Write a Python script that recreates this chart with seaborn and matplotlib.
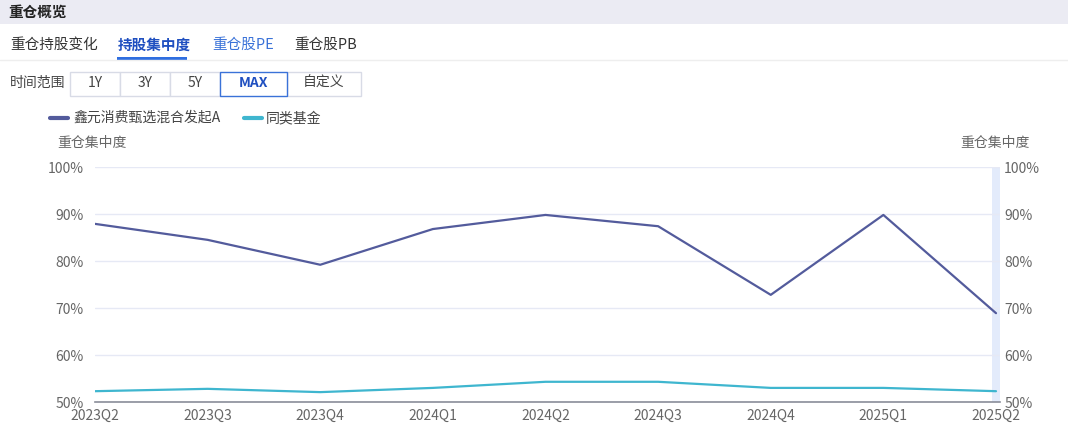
import pandas as pd
import numpy as np
import matplotlib
matplotlib.use("Agg")
import matplotlib.pyplot as plt
import seaborn as sns
from matplotlib.patches import Rectangle

# data
quarters = ["2023Q2", "2023Q3", "2023Q4", "2024Q1", "2024Q2", "2024Q3", "2024Q4", "2025Q1", "2025Q2"]
fund_name = "鑫元消费甄选混合发起A"
peer_name = "同类基金"
fund_vals = [87.9, 84.5, 79.2, 86.8, 89.8, 87.4, 72.8, 89.8, 68.9]
peer_vals = [52.3, 52.8, 52.1, 53.0, 54.3, 54.3, 53.0, 53.0, 52.3]
y_ticks = [50, 60, 70, 80, 90, 100]
tabs = ["重仓持股变化", "持股集中度", "重仓股PE", "重仓股PB"]
ranges = ["1Y", "3Y", "5Y", "MAX", "自定义"]

sns.set_theme(style="white")
plt.rcParams["font.family"] = ["Noto Sans CJK SC", "DejaVu Sans"]

df = pd.DataFrame({
    "q": list(range(len(quarters))) * 2,
    "v": fund_vals + peer_vals,
    "s": [fund_name] * len(quarters) + [peer_name] * len(quarters),
})

W, H = 1068, 448
fig = plt.figure(figsize=(W / 100, H / 100), dpi=100)

def fx(px):
    return px / W

def fy(py):
    return 1 - py / H

# header band
fig.patches.append(Rectangle((0, fy(24)), 1, 24 / H, transform=fig.transFigure,
                             facecolor="#ebebf3", edgecolor="none", zorder=0))
fig.text(fx(8), fy(12), "重仓概览", fontsize=10.5, fontweight="bold", color="#222222", va="center")

# tabs
tab_x = [10, 118, 212, 294]
tab_col = ["#333333", "#1f4fc0", "#3a72d8", "#333333"]
for t, x, c in zip(tabs, tab_x, tab_col):
    fig.text(fx(x), fy(45), t, fontsize=10.5, color=c, va="center",
             fontweight="bold" if t == "持股集中度" else "normal")
fig.patches.append(Rectangle((fx(117), fy(60)), 70 / W, 2.5 / H, transform=fig.transFigure,
                             facecolor="#2f6ee0", edgecolor="none"))
fig.lines.append(plt.Line2D([0, 1], [fy(60), fy(60)], transform=fig.transFigure,
                            color="#eeeeee", lw=1))

# time range buttons
fig.text(fx(10), fy(83), "时间范围", fontsize=10, color="#444444", va="center")
btn_x = [70, 120, 170, 220, 287, 361]
for i, r in enumerate(ranges):
    x0, x1 = btn_x[i], btn_x[i + 1]
    active = r == "MAX"
    fig.patches.append(Rectangle((fx(x0), fy(96)), (x1 - x0) / W, 24 / H, transform=fig.transFigure,
                                 facecolor="white", edgecolor="#3a72d8" if active else "#d8dbe6",
                                 lw=1, zorder=2 if active else 1))
    fig.text(fx((x0 + x1) / 2), fy(83), r, fontsize=10, ha="center", va="center",
             color="#1f4fc0" if active else "#444444", fontweight="bold" if active else "normal")

# main axes
ax = fig.add_axes([fx(95), fy(402), fx(1000) - fx(95), (402 - 167) / H])
palette = {fund_name: "#535b9c", peer_name: "#3fb6cf"}
sns.lineplot(data=df, x="q", y="v", hue="s", palette=palette, ax=ax, lw=1.6, legend=False)

xr = 8 + 4 / 112.6
ax.set_xlim(0, xr)
ax.set_ylim(50, 100)
ax.axvspan(8 - 4 / 112.6, xr, color="#e3ebfb", zorder=0.5, lw=0)
ax.set_yticks(y_ticks)
ax.set_yticklabels([f"{t}%" for t in y_ticks])
ax.set_xticks(range(len(quarters)))
ax.set_xticklabels(quarters)
ax.grid(axis="y", color="#e6e9f5", lw=1)
ax.set_axisbelow(True)
for s in ["top", "right", "left"]:
    ax.spines[s].set_visible(False)
ax.spines["bottom"].set_color("#8a8d99")
ax.spines["bottom"].set_linewidth(1.2)
ax.tick_params(axis="both", length=0, labelsize=10, labelcolor="#666666")
ax.tick_params(axis="y", pad=8)
ax.tick_params(axis="x", pad=5)
ax.set_xlabel("")
ax.set_ylabel("")

ax2 = ax.twinx()
ax2.set_ylim(50, 100)
ax2.set_yticks(y_ticks)
ax2.set_yticklabels([f"{t}%" for t in y_ticks])
for s in ax2.spines.values():
    s.set_visible(False)
ax2.tick_params(axis="y", length=0, labelsize=10, labelcolor="#666666", pad=3)

fig.text(fx(57), fy(143), "重仓集中度", fontsize=10, color="#666666", va="center")
fig.text(fx(1030), fy(143), "重仓集中度", fontsize=10, color="#666666", va="center", ha="right")

# legend
fig.lines.append(plt.Line2D([fx(50), fx(68)], [fy(118), fy(118)], transform=fig.transFigure,
                            color=palette[fund_name], lw=3))
fig.text(fx(73), fy(118), fund_name, fontsize=10, color="#444444", va="center")
fig.lines.append(plt.Line2D([fx(244), fx(262)], [fy(118), fy(118)], transform=fig.transFigure,
                            color=palette[peer_name], lw=3))
fig.text(fx(266), fy(118), peer_name, fontsize=10, color="#444444", va="center")

fig.savefig("out.png", dpi=100)
